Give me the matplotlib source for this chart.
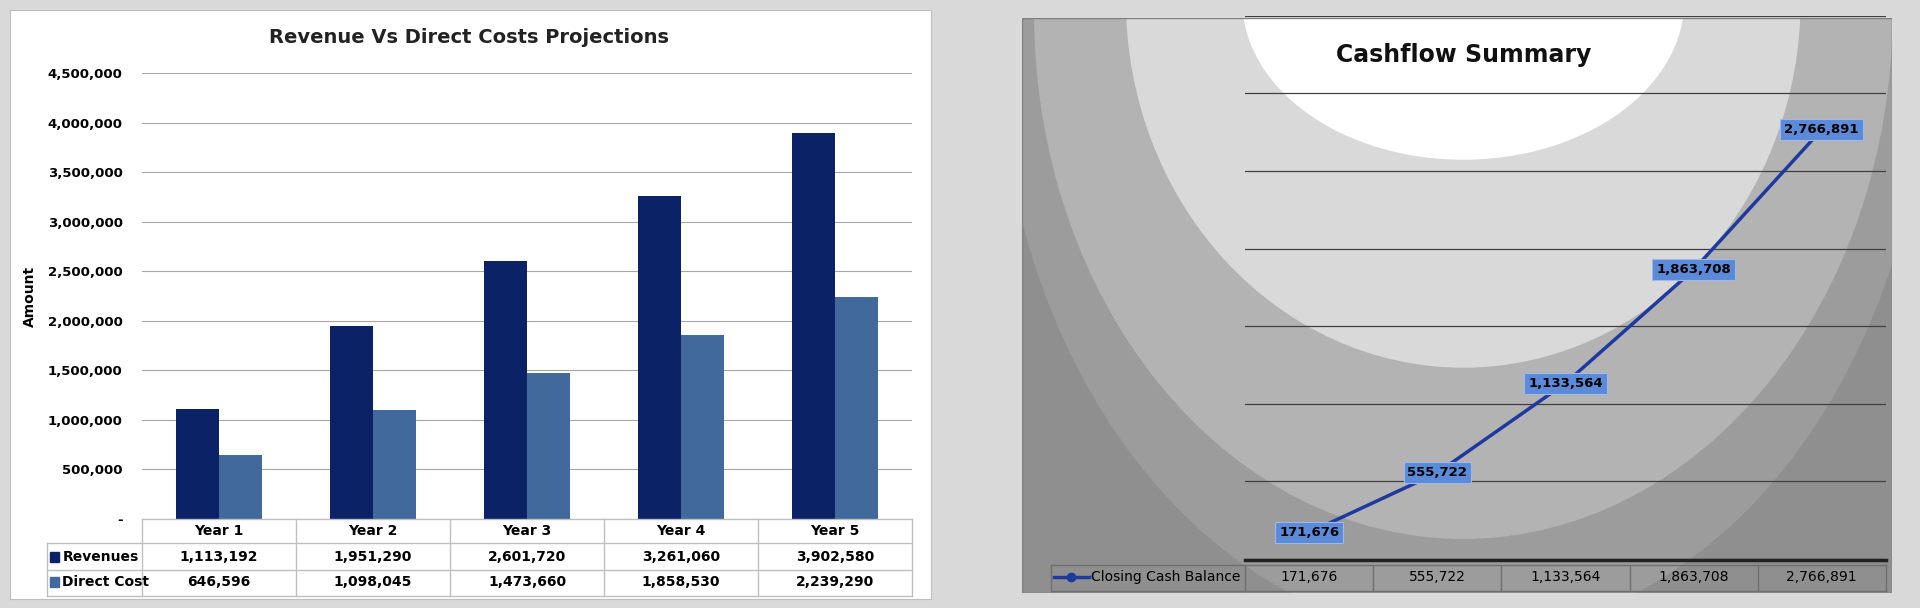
import matplotlib
matplotlib.use("Agg")
import matplotlib.pyplot as plt
from matplotlib.patches import Rectangle, Ellipse
from matplotlib.ticker import FuncFormatter
import numpy as np

plt.rcParams['font.family'] = ['Liberation Sans Narrow', 'DejaVu Sans']

years = ["Year 1", "Year 2", "Year 3", "Year 4", "Year 5"]
revenues = [1113192, 1951290, 2601720, 3261060, 3902580]
direct_cost = [646596, 1098045, 1473660, 1858530, 2239290]
closing_cash = [171676, 555722, 1133564, 1863708, 2766891]

# layout measured on a 1568x497 view of the reference
W, H = 1568, 497
C_REV, C_COST = "#0b2266", "#41699b"
C_LINE, C_LABEL = "#1f3a9e", "#5b8ad8"


def box(x0, y0, x1, y1):
    return [x0 / W, 1 - y1 / H, (x1 - x0) / W, (y1 - y0) / H]


def fxy(x, y):
    return x / W, 1 - y / H


fig = plt.figure(figsize=(19.2, 6.08), dpi=100, facecolor="#d9d9d9")

# ---------- left panel ----------
lbg = fig.add_axes(box(8, 8, 760, 490), zorder=-5)
lbg.set_xticks([]); lbg.set_yticks([])
for s in lbg.spines.values():
    s.set_color("#bfbfbf")

ax = fig.add_axes(box(116, 60, 745, 424))
ax.patch.set_visible(False)
x = np.arange(len(years))
ax.bar(x - 0.14, revenues, 0.28, color=C_REV)
ax.bar(x + 0.14, direct_cost, 0.28, color=C_COST)
ax.set_xlim(-0.5, 4.5)
ax.set_ylim(0, 4500000)
ax.set_yticks(np.arange(0, 4500001, 500000))
ax.yaxis.set_major_formatter(FuncFormatter(lambda v, p: "-" if v == 0 else f"{v:,.0f}"))
ax.tick_params(axis="y", length=0, labelsize=9.5, pad=14)
for lab in ax.get_yticklabels():
    lab.set_fontweight("bold")
ax.set_xticks([])
ax.grid(axis="y", color="#a6a6a6", lw=0.8)
ax.set_axisbelow(True)
for s in ax.spines.values():
    s.set_visible(False)
ax.set_ylabel("Amount", fontsize=10, fontweight="bold", labelpad=8)
fig.text(*fxy(383, 31), "Revenue Vs Direct Costs Projections", ha="center", va="center",
         fontsize=14, fontweight="bold", color="#222222")

col_x = [116 + i * 125.8 for i in range(6)]
rows_y = [424, 444, 466, 487]
grid_c = "#bfbfbf"
for yy in rows_y:
    x0 = 116 if yy == 424 else 38
    fig.add_artist(plt.Line2D([x0 / W, 745 / W], [1 - yy / H] * 2, color=grid_c, lw=1))
for xx in col_x:
    fig.add_artist(plt.Line2D([xx / W] * 2, [1 - 424 / H, 1 - 487 / H], color=grid_c, lw=1))
fig.add_artist(plt.Line2D([38 / W] * 2, [1 - 444 / H, 1 - 487 / H], color=grid_c, lw=1))
for i, yr in enumerate(years):
    cx = (col_x[i] + col_x[i + 1]) / 2
    fig.text(*fxy(cx, 434), yr, ha="center", va="center", fontsize=10, fontweight="bold")
    fig.text(*fxy(cx, 455), f"{revenues[i]:,}", ha="center", va="center", fontsize=10, fontweight="bold")
    fig.text(*fxy(cx, 476), f"{direct_cost[i]:,}", ha="center", va="center", fontsize=10, fontweight="bold")
for yy, name, c in [(455, "Revenues", C_REV), (476, "Direct Cost", C_COST)]:
    fig.add_artist(Rectangle(fxy(41, yy + 4), 7 / W, 8 / H, transform=fig.transFigure, color=c))
    fig.text(*fxy(51, yy), name, ha="left", va="center", fontsize=10, fontweight="bold")

# ---------- right panel ----------
bg = fig.add_axes(box(835, 15, 1545, 485), zorder=-5)
bg.set_xlim(835, 1545)
bg.set_ylim(485, 15)
bg.axis("off")
bg.add_patch(Rectangle((835, 15), 710, 470, color="#8f8f8f"))
rings = [(1195, 20, 760, 1000, "#9c9c9c"), (1195, 10, 700, 860, "#b3b3b3"),
         (1195, 0, 550, 600, "#d9d9d9"), (1195, 0, 360, 260, "#ffffff")]
for cx, cy, w, h, c in rings:
    bg.add_patch(Ellipse((cx, cy), w, h, color=c))
bg.add_patch(Rectangle((835, 15), 710, 470, fill=False, edgecolor="#7f7f7f", lw=1))

ax2 = fig.add_axes(box(1017, 13, 1540, 457))
ax2.patch.set_visible(False)
ax2.set_xlim(-0.5, 4.5)
ax2.set_ylim(0, 3500000)
ax2.set_yticks(np.arange(0, 3500001, 500000))
ax2.set_yticklabels([])
ax2.set_xticks([])
ax2.tick_params(length=0)
ax2.grid(axis="y", color="#404040", lw=0.9)
for s in ax2.spines.values():
    s.set_visible(False)
ax2.plot(x, closing_cash, color=C_LINE, lw=2.5, marker="o", ms=13)
for xi, v in zip(x, closing_cash):
    ax2.annotate(f"{v:,}", (xi, v), ha="center", va="center", fontsize=9.5, fontweight="bold",
                 bbox=dict(boxstyle="square,pad=0.3", fc=C_LABEL, ec="#9fb8e8", lw=0.8))
fig.text(*fxy(1195, 45), "Cashflow Summary", ha="center", va="center",
         fontsize=17, fontweight="bold", color="#111111")

cols2 = [1017 + i * 104.6 for i in range(6)]
fig.add_artist(plt.Line2D([1017 / W, 1540 / W], [1 - 458 / H] * 2, color="#222222", lw=2.5))
for yy in (462, 483):
    fig.add_artist(plt.Line2D([858 / W, 1540 / W], [1 - yy / H] * 2, color="#6f6f6f", lw=1))
for xx in [858] + cols2:
    fig.add_artist(plt.Line2D([xx / W] * 2, [1 - 462 / H, 1 - 483 / H], color="#6f6f6f", lw=1))
for i, v in enumerate(closing_cash):
    fig.text(*fxy((cols2[i] + cols2[i + 1]) / 2, 472), f"{v:,}", ha="center", va="center", fontsize=10)
fig.add_artist(plt.Line2D([861 / W, 889 / W], [1 - 472 / H] * 2, color=C_LINE, lw=2.5))
fig.add_artist(plt.Line2D([875 / W], [1 - 472 / H], color=C_LINE, marker="o", ms=6))
fig.text(*fxy(891, 472), "Closing Cash Balance", ha="left", va="center", fontsize=10)

fig.savefig("out.png", dpi=100, facecolor=fig.get_facecolor())
